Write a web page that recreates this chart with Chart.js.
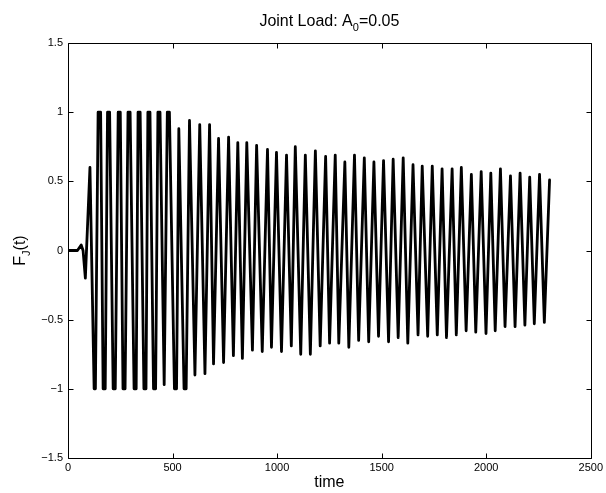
<!DOCTYPE html>
<html>
<head>
<meta charset="utf-8">
<title>Joint Load</title>
<script src="https://cdn.jsdelivr.net/npm/chart.js@4.4.1/dist/chart.umd.min.js"></script>
<style>
  html, body { margin: 0; padding: 0; background: #fff; }
  canvas { display: block; }
</style>
</head>
<body>
<canvas id="c" width="606" height="493" style="width:606px;height:493px"></canvas>
<script>
// Sampled joint load history F_J(t): turning points of the oscillation
const timeSteps = [
  0, 45, 63, 72, 83, 105, 125, 131,
  144, 156, 168, 178, 189, 199, 216, 226, 240, 250, 263, 273,
  287, 297, 316, 326, 335, 345, 363, 373, 382, 392, 409, 419,
  430, 440, 460, 475, 485, 509, 519, 530, 555, 565, 581,
  607, 630, 655, 677, 696, 720, 744, 768, 791, 812, 834, 855,
  882, 902, 929, 954, 973, 997, 1021, 1045, 1068, 1087, 1113, 1135,
  1159, 1183, 1206, 1232, 1251, 1278, 1295, 1324, 1343, 1370, 1390, 1417,
  1438, 1463, 1485, 1509, 1533, 1555, 1579, 1603, 1625, 1650, 1674, 1694,
  1720, 1742, 1766, 1789, 1810, 1837, 1857, 1881, 1904, 1929, 1950, 1976,
  1999, 2022, 2043, 2068, 2090, 2116, 2138, 2162, 2185, 2208, 2230, 2255,
  2278, 2303
];
const jointLoad = [
  0, 0, 0.04, 0, -0.2, 0.6, -1, -1,
  1, 1, -1, -1, 1, 1, -1, -1, 1, 1, -1, -1,
  1, 1, -1, -1, 1, 1, -1, -1, 1, 1, -1, -1,
  1, 1, -0.97, 1, 1, -1, -1, 0.88, -1, -1, 0.94,
  -0.90, 0.91, -0.89, 0.91, -0.82, 0.81, -0.81, 0.82, -0.76, 0.78, -0.78, 0.78,
  -0.72, 0.76, -0.73, 0.73, -0.70, 0.71, -0.73, 0.69, -0.69, 0.75, -0.75, 0.69,
  -0.75, 0.72, -0.69, 0.68, -0.67, 0.69, -0.67, 0.64, -0.70, 0.69, -0.65, 0.67,
  -0.66, 0.64, -0.62, 0.65, -0.66, 0.66, -0.63, 0.67, -0.67, 0.62, -0.61, 0.61,
  -0.62, 0.61, -0.61, 0.59, -0.63, 0.59, -0.61, 0.60, -0.58, 0.55, -0.59, 0.57,
  -0.60, 0.56, -0.58, 0.59, -0.55, 0.54, -0.55, 0.56, -0.54, 0.53, -0.53, 0.55,
  -0.52, 0.51
];
const xTicks = [0, 500, 1000, 1500, 2000, 2500];
const yTicks = [-1.5, -1, -0.5, 0, 0.5, 1, 1.5];

const FONT = '"Liberation Sans", Arial, Helvetica, sans-serif';
const fmt = v => (v < 0 ? '\u2212' + String(Math.abs(v)) : String(v));

// Box around the axes, inward tick marks on all four sides, and the text labels
const axesDecor = {
  id: 'axesDecor',
  afterDraw(chart) {
    const { ctx, chartArea: a, scales } = chart;
    const L = Math.round(a.left) + 0.5, R = Math.round(a.right) + 0.5;
    const T = Math.round(a.top) + 0.5, B = Math.round(a.bottom) + 0.5;
    const tick = 5;
    ctx.save();
    ctx.strokeStyle = '#000';
    ctx.lineWidth = 1;
    ctx.beginPath();
    ctx.rect(L, T, R - L, B - T);
    xTicks.forEach(v => {
      const x = Math.round(scales.x.getPixelForValue(v)) + 0.5;
      ctx.moveTo(x, B); ctx.lineTo(x, B - tick);
      ctx.moveTo(x, T); ctx.lineTo(x, T + tick);
    });
    yTicks.forEach(v => {
      const y = Math.round(scales.y.getPixelForValue(v)) + 0.5;
      ctx.moveTo(L, y); ctx.lineTo(L + tick, y);
      ctx.moveTo(R, y); ctx.lineTo(R - tick, y);
    });
    ctx.stroke();

    ctx.fillStyle = '#000';
    ctx.textBaseline = 'alphabetic';
    const cx = (a.left + a.right) / 2;
    const cy = (a.top + a.bottom) / 2;
    const big = '16px ' + FONT, small = '11px ' + FONT;

    // title with subscript
    const parts = [['Joint Load: A', big, 0], ['0', small, 5], ['=0.05', big, 0]];
    let w = 0;
    parts.forEach(p => { ctx.font = p[1]; w += ctx.measureText(p[0]).width; });
    let x = cx - w / 2;
    ctx.textAlign = 'left';
    parts.forEach(p => { ctx.font = p[1]; ctx.fillText(p[0], x, 26 + p[2]); x += ctx.measureText(p[0]).width; });

    // x axis label
    ctx.font = big;
    ctx.textAlign = 'center';
    ctx.fillText('time', cx, 487);

    // y axis label, rotated, with subscript
    ctx.translate(25, cy);
    ctx.rotate(-Math.PI / 2);
    const yparts = [['F', big, 0], ['J', small, 5], ['(t)', big, 0]];
    w = 0;
    yparts.forEach(p => { ctx.font = p[1]; w += ctx.measureText(p[0]).width; });
    x = -w / 2;
    ctx.textAlign = 'left';
    yparts.forEach(p => { ctx.font = p[1]; ctx.fillText(p[0], x, p[2]); x += ctx.measureText(p[0]).width; });
    ctx.restore();
  }
};

new Chart(document.getElementById('c'), {
  type: 'line',
  data: {
    datasets: [{
      data: timeSteps.map((t, i) => ({ x: t, y: jointLoad[i] })),
      borderColor: '#000',
      borderWidth: 2.8,
      borderJoinStyle: 'round',
      borderCapStyle: 'round',
      pointRadius: 0,
      fill: false,
      tension: 0
    }]
  },
  options: {
    responsive: false,
    animation: false,
    devicePixelRatio: 1,
    layout: { padding: { top: 43, right: 12, left: 0, bottom: 0 } },
    plugins: { legend: { display: false }, tooltip: { enabled: false }, title: { display: false } },
    scales: {
      x: {
        type: 'linear', min: 0, max: 2500,
        afterBuildTicks: s => { s.ticks = xTicks.map(v => ({ value: v })); },
        afterFit: s => { s.height = 35; },
        ticks: { color: '#000', font: { family: FONT, size: 11 }, padding: 3, maxRotation: 0, autoSkip: false, callback: v => fmt(v) },
        grid: { display: false, drawTicks: false },
        border: { display: false }
      },
      y: {
        type: 'linear', min: -1.5, max: 1.5,
        afterBuildTicks: s => { s.ticks = yTicks.map(v => ({ value: v })); },
        afterFit: s => { s.width = 68; },
        ticks: { color: '#000', font: { family: FONT, size: 11 }, padding: 5, autoSkip: false, callback: v => fmt(v) },
        grid: { display: false, drawTicks: false },
        border: { display: false }
      }
    }
  },
  plugins: [axesDecor]
});
</script>
</body>
</html>
